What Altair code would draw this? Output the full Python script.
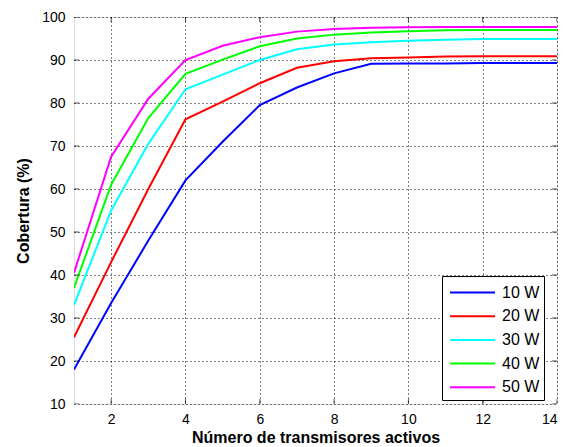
import altair as alt
import pandas as pd

x_vals = list(range(1, 15))
series_names = ["10 W", "20 W", "30 W", "40 W", "50 W"]
cov_10 = [18.0, 33.5, 48.0, 62.0, 71.0, 79.5, 83.6, 86.9, 89.1, 89.2, 89.2, 89.3, 89.3, 89.3]
cov_20 = [25.5, 43.0, 60.0, 76.2, 80.3, 84.6, 88.2, 89.7, 90.4, 90.6, 90.8, 90.9, 90.9, 90.9]
cov_30 = [33.0, 55.0, 70.5, 83.2, 86.6, 90.0, 92.5, 93.6, 94.1, 94.5, 94.7, 94.9, 94.9, 94.9]
cov_40 = [37.0, 61.0, 76.5, 86.8, 90.1, 93.2, 95.0, 95.9, 96.4, 96.7, 96.9, 97.0, 97.0, 97.0]
cov_50 = [40.5, 67.5, 81.0, 90.0, 93.3, 95.3, 96.6, 97.2, 97.5, 97.6, 97.7, 97.7, 97.7, 97.7]
colors = ["#0000FF", "#FF0000", "#00FFFF", "#00FF00", "#FF00FF"]
x_ticks = [2, 4, 6, 8, 10, 12, 14]
y_ticks = list(range(10, 101, 10))
x_domain = [1, 14]
y_domain = [10, 100]

rows = []
for name, vals in zip(series_names, [cov_10, cov_20, cov_30, cov_40, cov_50]):
    for xv, yv in zip(x_vals, vals):
        rows.append({"n": xv, "cob": yv, "serie": name})
df = pd.DataFrame(rows)

# inward tick marks on the four sides of the box
df_xt = pd.DataFrame([{"n": t, "cob": e} for t in x_ticks for e in y_domain])
df_yt = pd.DataFrame([{"n": e, "cob": t} for t in y_ticks for e in x_domain])

FONT = "Liberation Sans"

common_axis = dict(grid=True, gridDash=[1, 3], gridColor="#000000", gridOpacity=1,
                   domain=False, ticks=False,
                   labelFont=FONT, labelFontSize=14, labelColor="#000000",
                   titleFont=FONT, titleFontSize=16, titleFontWeight="bold", titleColor="#000000")

x_enc = alt.X("n:Q", scale=alt.Scale(domain=x_domain, nice=False, zero=False),
              axis=alt.Axis(title="Número de transmisores activos", values=x_ticks,
                            labelPadding=8, titlePadding=3, **common_axis))
y_enc = alt.Y("cob:Q", scale=alt.Scale(domain=y_domain, nice=False, zero=False),
              axis=alt.Axis(title="Cobertura (%)", values=y_ticks,
                            labelPadding=9, titlePadding=10, **common_axis))

lines = alt.Chart(df).mark_line(strokeWidth=2, clip=True).encode(
    x=x_enc, y=y_enc,
    color=alt.Color("serie:N", scale=alt.Scale(domain=series_names, range=colors),
                    legend=alt.Legend(title=None, orient="none", legendX=368, legendY=259,
                                      symbolType="M-2,0H2", symbolSize=506, symbolStrokeWidth=2,
                                      symbolOffset=14, symbolFillColor="transparent",
                                      labelFontSize=16, labelFont=FONT, labelColor="#000000",
                                      fillColor="#FFFFFF", strokeColor="#000000",
                                      padding=4, rowPadding=2.7, labelOffset=17)),
)

ticks_x = alt.Chart(df_xt).mark_tick(orient="vertical", size=10, thickness=1,
                                     color="#000000", clip=True).encode(x=x_enc, y=y_enc)
ticks_y = alt.Chart(df_yt).mark_tick(orient="horizontal", size=10, thickness=1,
                                     color="#000000", clip=True).encode(x=x_enc, y=y_enc)

chart = alt.layer(lines, ticks_x, ticks_y).properties(
    width=483, height=387,
    autosize=alt.AutoSizeParams(type="none"),
    padding={"left": 66, "top": 9, "right": 5, "bottom": 40},
).configure_view(
    stroke="#000000", strokeWidth=1,
).configure(background="#FFFFFF")

chart.save("out.html", embed_options={"renderer": "svg", "actions": False})
